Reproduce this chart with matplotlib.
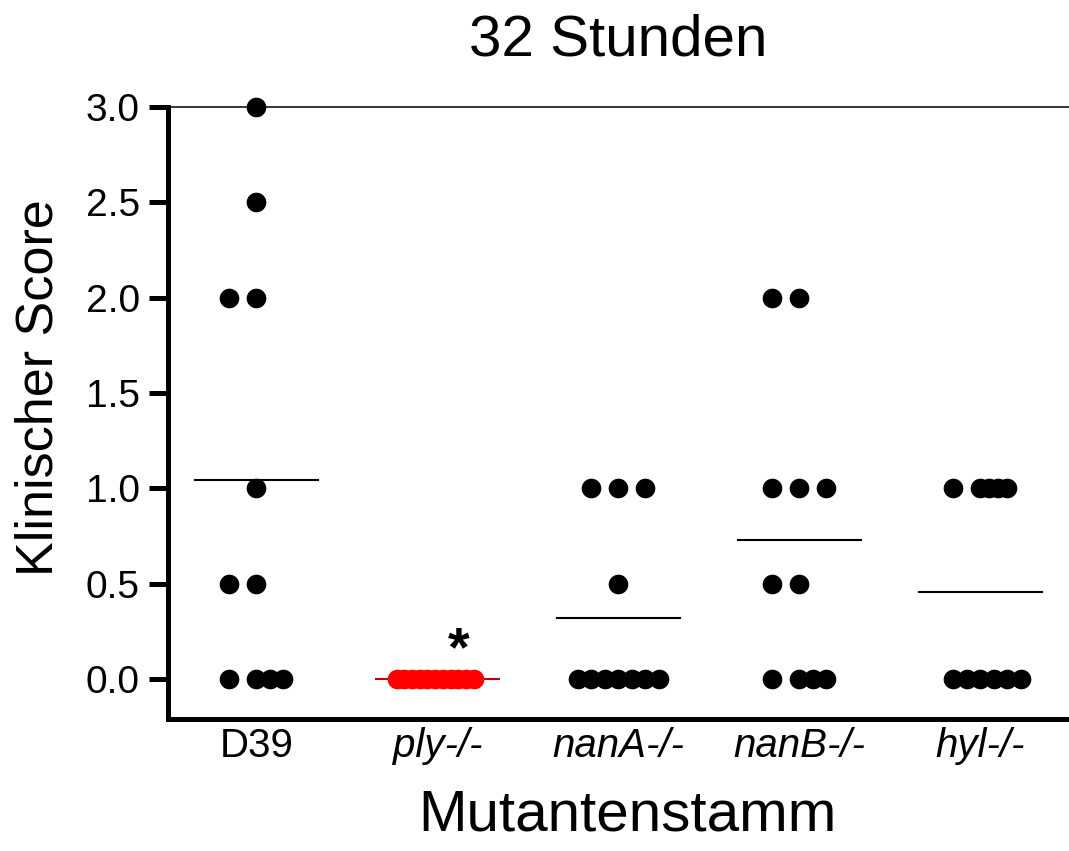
"""Scatter plot of clinical score per mutant strain after 32 hours."""

import matplotlib
import matplotlib.pyplot as plt
import numpy as np

matplotlib.use('Agg')

plt.rcParams['font.family'] = ['Liberation Sans', 'DejaVu Sans']

strains = ['D39', 'ply-/-', 'nanA-/-', 'nanB-/-', 'hyl-/-']
scores_d39 = [3.0, 2.5, 2.0, 2.0, 1.0, 0.5, 0.5, 0.0, 0.0, 0.0, 0.0]
scores_ply = [0.0, 0.0, 0.0, 0.0, 0.0, 0.0, 0.0, 0.0, 0.0, 0.0, 0.0]
scores_nana = [1.0, 1.0, 1.0, 0.5, 0.0, 0.0, 0.0, 0.0, 0.0, 0.0, 0.0]
scores_nanb = [2.0, 2.0, 1.0, 1.0, 1.0, 0.5, 0.5, 0.0, 0.0, 0.0, 0.0]
scores_hyl = [1.0, 1.0, 1.0, 1.0, 1.0, 0.0, 0.0, 0.0, 0.0, 0.0, 0.0]
all_scores = [scores_d39, scores_ply, scores_nana, scores_nanb, scores_hyl]
significant = [False, True, False, False, False]


def row_offsets(n: int) -> np.ndarray:
    """Prism-like horizontal spread for n points sharing one value."""
    step = 0.075
    if n == 1:
        grid = [0]
    elif n == 2:
        grid = [-2, 0]
    elif n == 3:
        grid = [-2, 0, 2]
    elif n == 4:
        grid = [-2, 0, 1, 2]
    elif n == 5:
        grid = [-2, 0, 0.67, 1.33, 2]
    elif n <= 7:
        grid = np.arange(n) - (n - 1) // 2
    else:
        grid = np.linspace(-3, 2.7, n)
    return np.asarray(grid, dtype=float) * step


fig = plt.figure(figsize=(10.69, 8.51), dpi=100)
ax = fig.add_axes([0.1567, 0.155, 1.0 - 0.1567, 0.8743 - 0.155])

for i, scores in enumerate(all_scores):
    color = '#ff0000' if significant[i] else 'black'
    values = np.asarray(scores)
    xs, ys = [], []
    for val in sorted(set(values), reverse=True):
        n = int(np.sum(values == val))
        xs.extend(i + row_offsets(n))
        ys.extend([val] * n)
    ax.scatter(xs, ys, s=200, color=color, zorder=3, clip_on=False,
               linewidths=0)
    mean = values.mean()
    line_color = '#c00000' if significant[i] else 'black'
    ax.plot([i - 0.34, i + 0.34], [mean, mean], color=line_color,
            lw=1.5, zorder=2)
    if significant[i]:
        # significance marker above the group
        ax.text(i + 0.12, 0.07, '*', fontsize=40, fontweight='bold',
                ha='center', va='baseline')

ax.set_xlim(-0.49, 4.49)
ax.set_ylim(-0.21, 3.0)
ax.set_yticks([0.0, 0.5, 1.0, 1.5, 2.0, 2.5, 3.0])
ax.set_yticklabels([f"{v:.1f}" for v in [0.0, 0.5, 1.0, 1.5, 2.0, 2.5, 3.0]])
ax.set_xticks(range(len(strains)))
ax.set_xticklabels(strains)
for k, lab in enumerate(ax.get_xticklabels()):
    if k > 0:
        lab.set_fontstyle('italic')

ax.tick_params(axis='y', labelsize=28, length=14, width=3.6, pad=6)
ax.tick_params(axis='x', labelsize=29, length=0, pad=6)

ax.spines['left'].set_linewidth(3.6)
ax.spines['bottom'].set_linewidth(3.6)
ax.spines['top'].set_linewidth(1.1)
ax.spines['right'].set_visible(False)

ax.set_title('32 Stunden', fontsize=42, pad=37)
ax.set_ylabel('Klinischer Score', fontsize=37.5)
ax.yaxis.set_label_coords(-0.115, 0.541)
ax.set_xlabel('Mutantenstamm', fontsize=42)
ax.xaxis.set_label_coords(0.51, -0.114)

fig.savefig('out.png', dpi=100)
plt.close(fig)
